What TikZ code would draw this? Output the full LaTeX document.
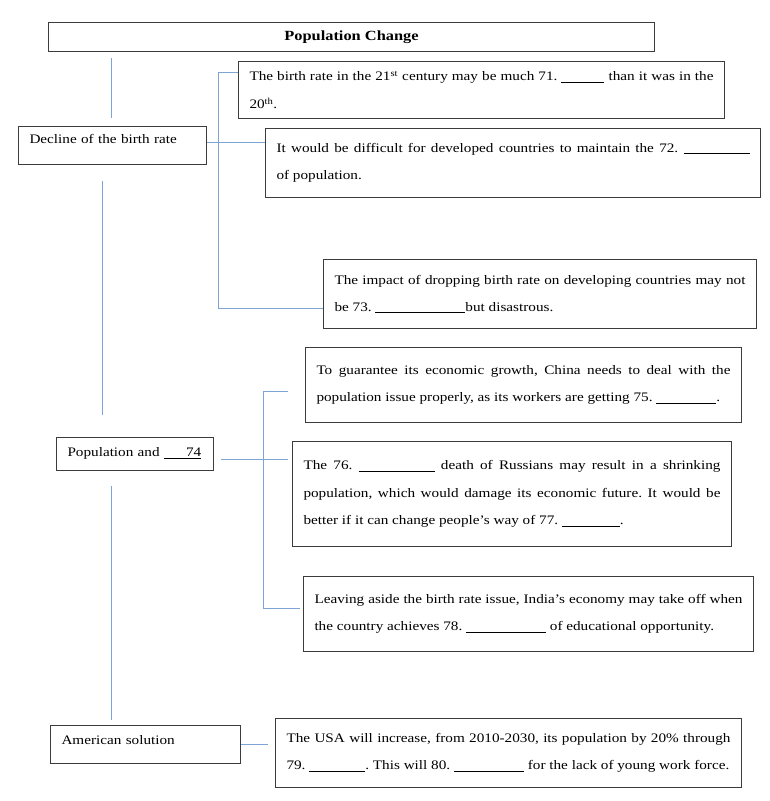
\documentclass[tikz,border=0pt]{standalone}
\usepackage{fontspec}
\setmainfont{Liberation Serif}[FakeStretch=1.17]
\usepackage{tikz}
\usetikzlibrary{positioning,calc}

\definecolor{framegray}{HTML}{3C3C3C}
\definecolor{linkblue}{HTML}{7EA4D6}
\newcommand{\ansline}[1]{\rule[-1.5pt]{#1}{0.6pt}}
\frenchspacing

\begin{document}
\begin{tikzpicture}[x=1pt, y=-1pt,
    card/.style={draw=framegray, line width=1pt, anchor=north west, inner xsep=11pt, inner ysep=3pt, align=justify, font=\fontsize{13}{27.5}\selectfont},
    topic/.style={draw=framegray, line width=1pt, anchor=north west, inner xsep=11pt, inner ysep=3pt, align=left, font=\fontsize{13}{14}\selectfont},
    link/.style={draw=linkblue, line width=0.9pt}
]
\useasboundingbox (0,0) rectangle (769,801);

% title and the three topics
\node[draw=framegray, line width=1pt, anchor=north west, minimum width=606pt, minimum height=29pt, font=\fontsize{14}{16}\selectfont\bfseries] (title) at (48,22) {Population Change};
\node[topic, text width=166pt, text height=14pt, text depth=18pt] (decline) at (18,126) {Decline of the birth rate};
\node[topic, text width=135pt, text height=16pt, text depth=11pt] (population) at (56,437) {Population and \underline{\hspace{22pt}\hfill 74}};
\node[topic, text width=168pt, text height=16pt, text depth=16pt] (american) at (50,725) {American solution};

% details
\node[card, text width=464pt, minimum height=57pt] (birth) at (238,61) {The birth rate in the 21\textsuperscript{st} century may be much 71. \ansline{43pt} than it was in the\linebreak 20\textsuperscript{th}.};
\node[card, text width=473pt, minimum height=69pt] (developed) at (265,128) {It would be difficult for developed countries to maintain the 72. \ansline{66pt}\linebreak of population.};
\node[card, text width=411pt, minimum height=69pt] (developing) at (323,259) {The impact of dropping birth rate on developing countries may not\linebreak be 73. \ansline{90pt}but disastrous.};
\node[card, text width=414pt, minimum height=75pt] (china) at (305,347) {To guarantee its economic growth, China needs to deal with the\linebreak population issue properly, as its workers are getting 75. \ansline{60pt}.};
\node[card, text width=417pt, minimum height=105pt] (russia) at (292,441) {The 76. \ansline{76pt} death of Russians may result in a shrinking\linebreak population, which would damage its economic future. It would be\linebreak better if it can change people's way of 77. \ansline{58pt}.};
\node[card, text width=428pt, minimum height=75pt] (india) at (303,576) {Leaving aside the birth rate issue, India's economy may take off when\linebreak the country achieves 78. \ansline{80pt} of educational opportunity.};
\node[card, text width=444pt, minimum height=69pt] (usa) at (275,718) {The USA will increase, from 2010-2030, its population by 20\% through\linebreak 79. \ansline{56pt}. This will 80. \ansline{70pt} for the lack of young work force.};

% spine
\draw[link] ([xshift=63pt,yshift=-6pt]title.south west) -- ([xshift=93pt,yshift=8pt]decline.north west);
\draw[link] ([xshift=84pt,yshift=-16pt]decline.south west) -- ([xshift=46pt,yshift=22pt]population.north west);
\draw[link] ([xshift=55pt,yshift=-15pt]population.south west) -- ([xshift=61pt,yshift=5pt]american.north west);

% brackets
\draw[link] ([yshift=3pt]decline.east) -- ([yshift=3pt]decline.east -| developed.west);
\draw[link] ([yshift=-11pt]birth.north west) -- ++(-20,0) |- ([yshift=-14pt]developing.west);
\draw[link] ([xshift=-17pt,yshift=-6pt]china.west) -- ++(-25,0) |- ([xshift=-3pt,yshift=6pt]india.west);
\draw[link] ([xshift=7pt,yshift=-5pt]population.east) -- ([xshift=-4pt,yshift=-5pt]population.east -| russia.west);
\draw[link] (american.east) -- ([xshift=-7pt]american.east -| usa.west);
\end{tikzpicture}
\end{document}
